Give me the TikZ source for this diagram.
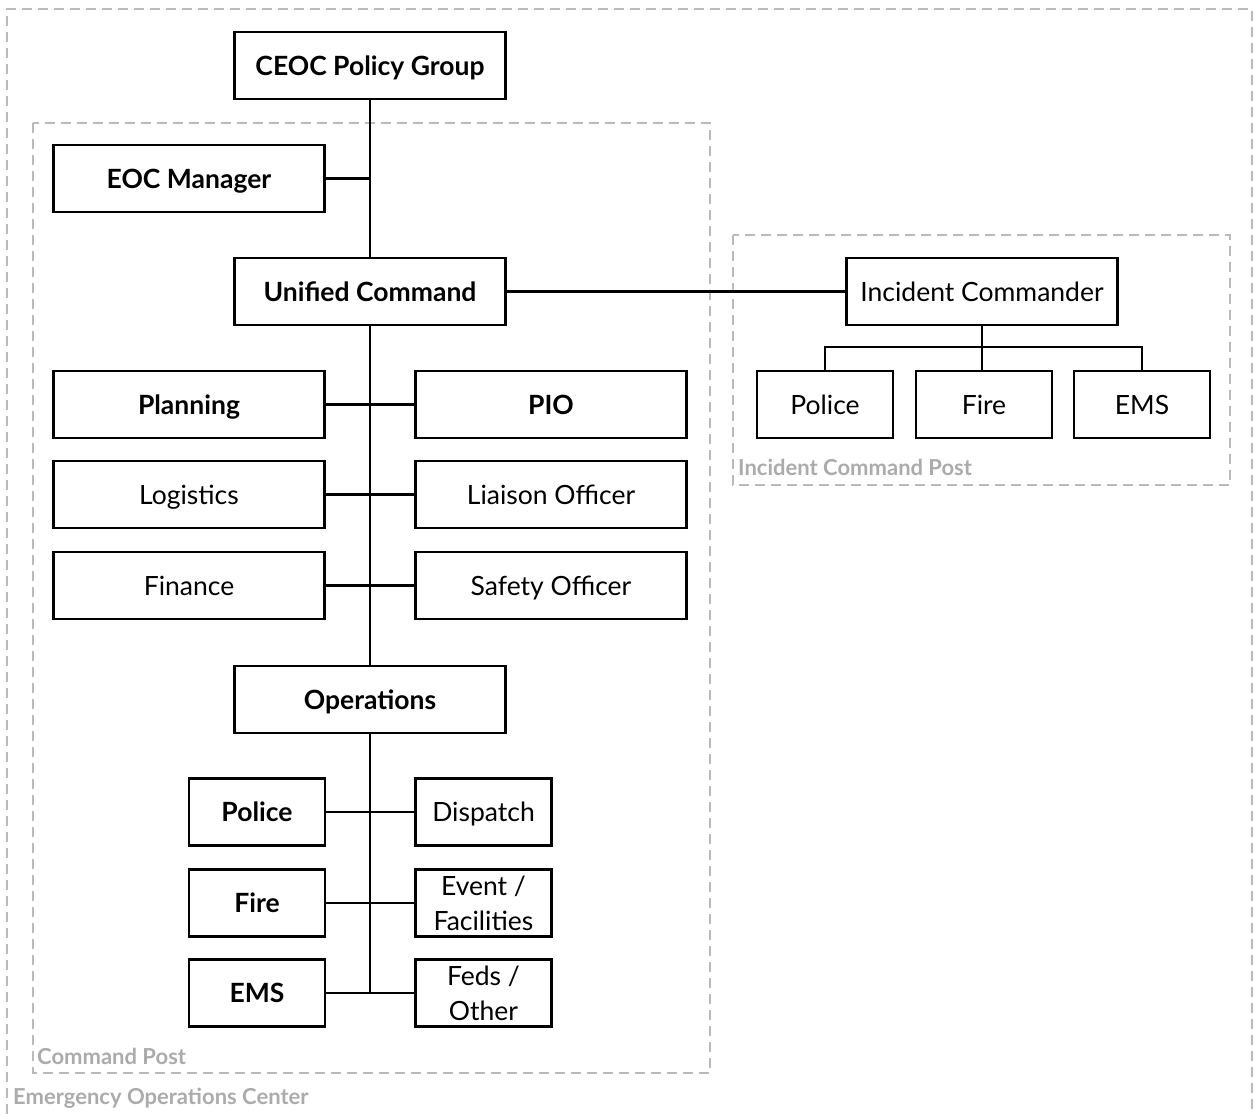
\documentclass[tikz,border=0pt]{standalone}
\usepackage{fontspec}
\setmainfont{Lato}
\begin{document}
\begin{tikzpicture}[x=1pt,y=-1pt,
  box/.style={draw=black,line width=2.4pt,rectangle,inner sep=0pt,align=center,
    text height=24pt,text depth=5pt,
    font=\fontsize{26.5}{35}\selectfont},
  twoline/.style={text height=55pt,text depth=0pt},
  wide/.style={box,minimum width=271pt,minimum height=67pt},
  narrow/.style={box,minimum width=136pt,minimum height=67pt},
  wire/.style={line width=2.4pt,draw=black},
  zone/.style={draw=black!27,line width=2.4pt,dash pattern=on 10pt off 6pt},
  zonelabel/.style={text=black!33,font=\fontsize{22}{24}\bfseries\selectfont,inner sep=0pt,anchor=south west}]
\useasboundingbox (0,0) rectangle (1254,1114);
% zones
\draw[zone] (7,1114) -- (7,9) -- (1252,9) -- (1252,1114);
\draw[zone] (33,123) rectangle (710,1073);
\draw[zone] (733,235) rectangle (1230,485);
\node[zonelabel] (lblcp) at (37,1065) {Command Post};
\node[zonelabel] (lblicp) at (738,476) {Incident Command Post};
\node[zonelabel] (lbleoc) at (13,1109) {Emergency Operations Center};
% nodes
\node[wide] (ceoc) at (370,65.5) {\bfseries CEOC Policy Group};
\node[wide] (eoc) at (189,178.5) {\bfseries EOC Manager};
\node[wide] (uc) at (370,291.5) {\bfseries Unified Command};
\node[wide] (plan) at (189,404.5) {\bfseries Planning};
\node[wide] (pio) at (551,404.5) {\bfseries PIO};
\node[wide] (log) at (189,494.5) {Logistics};
\node[wide] (liaison) at (551,494.5) {Liaison Officer};
\node[wide] (fin) at (189,585.5) {Finance};
\node[wide] (safety) at (551,585.5) {Safety Officer};
\node[wide] (ops) at (370,699.5) {\bfseries Operations};
\node[narrow] (police) at (257,812) {\bfseries Police};
\node[narrow] (dispatch) at (483.5,812) {Dispatch};
\node[narrow] (fire) at (257,903) {\bfseries Fire};
\node[narrow,twoline] (event) at (483.5,903) {Event /\\Facilities};
\node[narrow] (ems) at (257,993) {\bfseries EMS};
\node[narrow,twoline] (feds) at (483.5,993) {Feds /\\Other};
\node[wide] (ic) at (982,291.5) {Incident Commander};
\node[narrow] (icpolice) at (825,404.5) {Police};
\node[narrow] (icfire) at (984,404.5) {Fire};
\node[narrow] (icems) at (1142,404.5) {EMS};
% connectors
\draw[wire] (ceoc.south) -- (uc.north);
\draw[wire] (eoc.east) -- (eoc.east -| ceoc.south);
\draw[wire] (uc.south) -- (ops.north);
\draw[wire] (plan.east) -- (pio.west);
\draw[wire] (log.east) -- (liaison.west);
\draw[wire] (fin.east) -- (safety.west);
\draw[wire] (ops.south) -- (ems.east -| ops.south);
\draw[wire] (police.east) -- (dispatch.west);
\draw[wire] (fire.east) -- (event.west);
\draw[wire] (ems.east) -- (feds.west);
\draw[wire] (uc.east) -- (ic.west);
\draw[wire] (ic.south) -- (ic.south |- icfire.north);
\draw[wire] (icpolice.north) -- ++(0,-23) -| (icems.north);
\end{tikzpicture}
\end{document}
